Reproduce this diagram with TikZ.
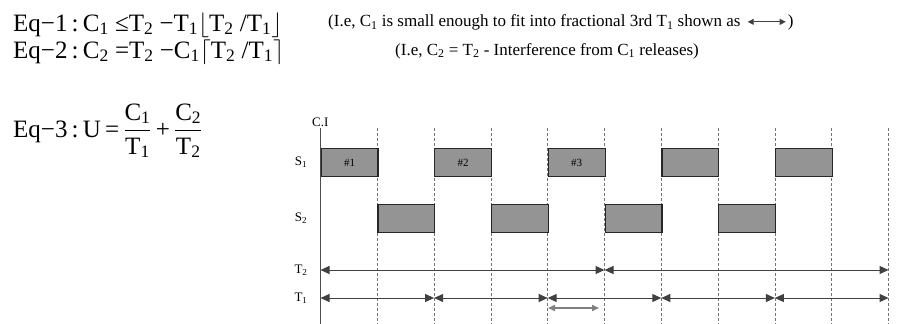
\documentclass[tikz,border=0pt]{standalone}
\usepackage{amsmath}
\usepackage{fontspec}
\setmainfont{Liberation Serif}
\usetikzlibrary{arrows.meta}
\newcommand\sub[1]{$_{\text{#1}}$}

\begin{document}
\begin{tikzpicture}[x=1pt,y=-1pt,font=\fontsize{25}{28}\selectfont,
  slot/.style={draw=black!85,line width=1.2pt,fill=black!42,minimum width=56.8pt,minimum height=28pt,inner sep=0pt,anchor=north west,font=\fontsize{11}{12}\selectfont},
  tick/.style={draw=black!55,densely dashed,line width=.7pt},
  span/.style={{Triangle[length=9pt,width=8pt]}-{Triangle[length=9pt,width=8pt]},line width=1pt,draw=black!75},
  note/.style={font=\fontsize{17}{19}\selectfont,inner sep=0pt},
  lab/.style={font=\fontsize{13}{15}\selectfont,inner sep=0pt}]
\useasboundingbox (0,0) rectangle (906,324);
% equations
\node[anchor=base west,inner sep=0pt] (eq1) at (13,31) {Eq−1\,:\,C\sub{1} ≤T\sub{2} −T\sub{1}$\lfloor$T\sub{2} /T\sub{1}$\rfloor$};
\node[anchor=base west,inner sep=0pt] (eq2) at (13,58) {Eq−2\,:\,C\sub{2} =T\sub{2} −C\sub{1}$\lceil$T\sub{2} /T\sub{1}$\rceil$};
\node[anchor=base west,inner sep=0pt] (eq3) at (13,137) {Eq−3\,:\,U\,=\,$\dfrac{\text{C}_{\text{1}}}{\text{T}_{\text{1}}}$\,+\,$\dfrac{\text{C}_{\text{2}}}{\text{T}_{\text{2}}}$};
% notes
\node[note,anchor=base west] (n1) at (328,27) {(I.e, C\sub{1} is small enough to fit into fractional 3rd T\sub{1} shown as};
\coordinate (la) at ([xshift=7pt,yshift=1pt]n1.east);\coordinate (lb) at ([xshift=38pt]la);
\draw[span,line width=.9pt,{Triangle[length=6pt,width=6pt]}-{Triangle[length=6pt,width=6pt]}] (la) -- (lb);
\node[note,anchor=west] (n1e) at ([xshift=2pt,yshift=-1pt]lb) {)};
\node[note,anchor=base west] (n2) at (395,55) {(I.e, C\sub{2} = T\sub{2} - Interference from C\sub{1} releases)};
% time grid
\foreach \i in {0,...,10}{
  \coordinate (u\i) at (320.5+\i*56.8,128);\coordinate (b\i) at (320.5+\i*56.8,324);
  \coordinate (p\i) at (320.5+\i*56.8,270);\coordinate (q\i) at (320.5+\i*56.8,298);}
\foreach \i in {1,...,10}{\draw[tick] (u\i) -- (b\i);}
\draw[black!70,line width=1.3pt] (u0) -- (b0);
\node[lab,anchor=south west] (ci) at (312,127) {C.I};
% tasks
\foreach \i/\txt in {0/\#1,2/\#2,4/\#3,6/,8/}{\node[slot] (s1\i) at ([yshift=-20pt]u\i) {\txt};}
\foreach \i in {1,3,5,7}{\node[slot] (s2\i) at ([yshift=-76pt]u\i) {};}
\node[lab] (ls1) at (301,162) {S\sub{1}};
\node[lab] (ls2) at (301,218) {S\sub{2}};
\node[lab] (lt2) at (301,270) {T\sub{2}};
\node[lab] (lt1) at (301,298) {T\sub{1}};
% periods
\draw[span] (p0) -- (p5);\draw[span] (p5) -- (p10);
\foreach \a/\b in {0/2,2/4,4/6,6/8,8/10}{\draw[span] (q\a) -- (q\b);}
\coordinate (fa) at (548,308);\coordinate (fb) at (599,308);
\draw[{Triangle[length=7pt,width=6pt]}-{Triangle[length=7pt,width=6pt]},line width=1.6pt,draw=black!50] (fa) -- (fb);
\end{tikzpicture}
\end{document}
